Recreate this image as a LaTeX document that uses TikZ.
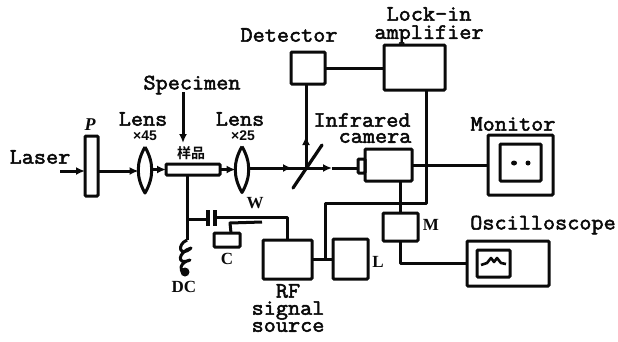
\documentclass[tikz,border=0pt]{standalone}
\usepackage{fontspec}
\newfontfamily\typef{Latin Modern Mono}[FakeBold=2.4,FakeStretch=1.07]
\newfontfamily\cjkf{Noto Sans CJK SC}[BoldFont=* Bold]
\newfontfamily\smallf{Liberation Sans}[BoldFont=* Bold]
\newfontfamily\serf{Liberation Serif}[BoldFont=* Bold]
\usetikzlibrary{arrows.meta,shapes.geometric,calc}
\newcommand\bx[5]{\node[boxst,minimum width={(#4-#2)*1pt},minimum height={(#5-#3)*1pt}] (#1) at ({(#2+#4)/2},{(#3+#5)/2}) {};}
\tikzset{
 boxst/.style={draw=ink,line width=3pt,inner sep=0pt,outer sep=0pt,rounded corners=1pt},
 wire/.style={draw=ink,line width=3pt,line join=round},
 arr/.style={wire,-{Latex[length=9pt,width=8pt]}},
 lab/.style={text=ink,font=\fontsize{22}{22}\selectfont\typef,inner sep=0pt,anchor=center},
 tiny/.style={text=ink,font=\fontsize{17}{17}\selectfont\serf\bfseries,inner sep=0pt,anchor=center},
 lensst/.style={draw=none,ellipse,inner sep=0pt,outer sep=0pt,minimum width=13pt,minimum height=46pt},
 lensline/.style={wire,line width=3pt}
}
\definecolor{ink}{RGB}{10,10,10}
\begin{document}
\begin{tikzpicture}[x=1pt,y=-1pt]
\useasboundingbox (0,0) rectangle (618,341);
% boxes
\bx{plate}{85}{136}{98}{196}
\bx{spec}{166}{164}{220}{175}
\bx{det}{291}{52}{325}{84}
\bx{lock}{384}{45}{445}{90}
\bx{cam}{365}{149}{412}{181}
\bx{bump}{358}{159}{365}{173}
\bx{mon}{488}{135}{553}{195}
\bx{monin}{500}{144}{541}{181}
\bx{rf}{263}{240}{312}{279}
\bx{ell}{333}{239}{368}{279}
\bx{mm}{383}{213}{418}{241}
\bx{osc}{467}{241}{549}{286}
\bx{oscin}{477}{250}{510}{277}
\bx{cbox}{214}{233}{240}{247}
% lenses
\node[lensst] (lensA) at (145,170) {};
\node[lensst] (lensB) at (242,169.5) {};
\draw[lensline] (lensA.north) to[bend left=30] (lensA.south) to[bend left=30] (lensA.north);
\draw[lensline] (lensB.north) to[bend left=30] (lensB.south) to[bend left=30] (lensB.north);
% named points
\coordinate (laserin) at (60,171);
\coordinate (split) at (306,168);
\coordinate (splitA) at (293,188);
\coordinate (splitB) at (322,145);
\coordinate (specin) at (183,92);
\coordinate (junc) at (187,219);
\coordinate (coilTop) at (187,240);
\coordinate (coilEnd) at (185,272);
\coordinate (capL) at (208,219);
\coordinate (capR) at (215,217);
\coordinate (wireTL) at (230,223);
\coordinate (wireTR) at (262,222);
\coordinate (corner) at (325,203);
\coordinate (cornerR) at (426,203);
% beam
\draw[arr] (laserin) -- (plate.west |- laserin);
\draw[arr] (plate.east |- laserin) -- (lensA.west |- laserin);
\draw[arr] (lensA.east |- spec.west) -- (spec.west);
\draw[arr] (spec.east) -- (lensB.west |- spec.east);
\draw[wire] (lensB.east |- split) -- (split);
\draw[arr] (lensB.east |- split) -- (292,168);
\draw[arr] (split) -- (332,168);
\draw[wire] (332,168) -- (bump.west |- split);
\draw[wire,line width=3.2pt,line cap=round] (splitA) -- (splitB);
\draw[wire] (split) -- (split |- det.south);
\draw[arr] (split) -- (306,136);
% specimen arrow
\draw[arr] (specin) -- (183,143);
% electrical
\draw[wire] (det.east) -- (lock.west |- det.east);
\draw[wire] (cam.east) -- (mon.west |- cam.east);
\draw[wire] (lock.south -| cornerR) -- (cornerR) -- (corner) -- (corner |- rf.east);
\draw[wire] (rf.east) -- (ell.west |- rf.east);
\draw[wire] (mm.north) -- (cam.south -| mm.north);
\draw[wire] (mm.south) |- (osc.west);
% bias / capacitor
\draw[wire] (spec.south -| junc) -- (coilTop);
\draw[wire] (junc) -- (capL);
\draw[wire,line width=3.2pt] (208,210) -- (208,226);
\draw[wire,line width=3.2pt] (215,210) -- (215,226);
\draw[wire] (capR) -- (capR -| rf.north) -- (rf.north);
\draw[wire] (cbox.north -| 231,0) -- (wireTL) -- (wireTR);
% coil
\draw[wire] (coilTop) .. controls (176,245) and (180,258) .. (191,248)
  .. controls (178,252) and (176,266) .. (190,260)
  .. controls (180,262) and (178,272) .. (coilEnd);
\fill[ink] (coilEnd) circle (4.5pt);
% monitor dots and oscilloscope trace
\node[ink,fill,ellipse,minimum width=6pt,minimum height=5pt,inner sep=0pt] (dotA) at (514,163) {};
\node[ink,fill,ellipse,minimum width=5pt,minimum height=5pt,inner sep=0pt] (dotB) at (528,163) {};
\draw[wire,line width=2.6pt] (481,265) -- (487,263) -- (491,258) -- (494,262) -- (497,258) -- (501,263) -- (506,264);
% text
\node[lab] (tLaser) at (40,157) {Laser};
\node[tiny,font=\fontsize{18}{18}\selectfont\serf\bfseries\itshape] (tP) at (90,125) {P};
\node[lab] (tLensA) at (143,119) {Lens};
\node[lab] (tLensB) at (240,119) {Lens};
\node[tiny,font=\fontsize{14}{14}\selectfont\smallf\bfseries] (tA) at (145,136) {×45};
\node[tiny,font=\fontsize{14}{14}\selectfont\smallf\bfseries] (tB) at (243,136) {×25};
\node[lab] (tSpec) at (192,85) {Specimen};
\node[tiny,font=\fontsize{14}{14}\selectfont\cjkf\bfseries] (tSample) at (191,153) {样品};
\node[lab] (tDet) at (289,35) {Detector};
\node[lab] (tLock) at (429,14) {Lock-in};
\node[lab] (tAmp) at (429,34.5) {amplifier};
\node[lab] (tInf) at (362,120) {Infrared};
\node[lab] (tCam) at (375,138) {camera};
\node[lab] (tMon) at (513,124) {Monitor};
\node[lab] (tOsc) at (543,225) {Oscilloscope};
\node[tiny] (tW) at (255,203) {W};
\node[tiny] (tC) at (227,259) {C};
\node[tiny] (tDC) at (184,287) {DC};
\node[tiny] (tL) at (378,262) {L};
\node[tiny] (tM) at (431,225) {M};
\node[lab] (tRF) at (288,291) {RF};
\node[lab] (tSig) at (288,310.5) {signal};
\node[lab] (tSrc) at (288,327) {source};
\end{tikzpicture}
\end{document}
